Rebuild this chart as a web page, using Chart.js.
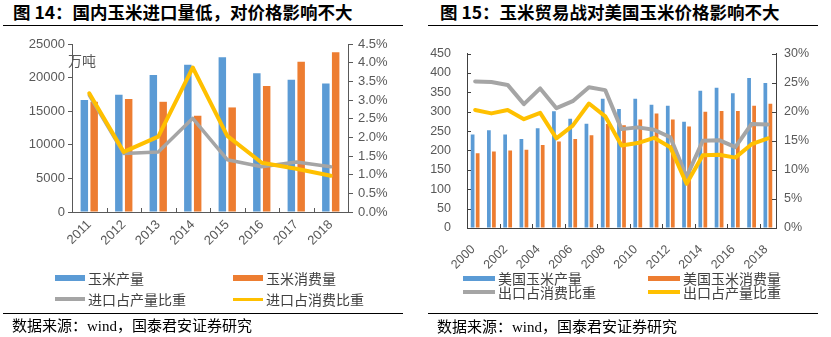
<!DOCTYPE html>
<html lang="zh">
<head>
<meta charset="UTF-8" />
<title>玉米进口与美国玉米贸易</title>
<script src="https://cdn.jsdelivr.net/npm/chart.js"></script>
<style>
  body { margin: 0; width: 831px; height: 337px; background: #fff; position: relative; overflow: hidden;
         font-family: "Noto Sans CJK SC", sans-serif; }
  .title { position: absolute; top: 2px; line-height: 20px; font-size: 17.5px; font-weight: 700; color: #000; white-space: nowrap; }
  .rule { position: absolute; height: 0; border-top: 1.5px solid #000; }
  .source { position: absolute; line-height: 20px; font-family: "Liberation Serif", "Noto Sans CJK SC", serif;
            font-size: 15px; color: #000; white-space: nowrap; }
  .box { position: absolute; }
  .unit { position: absolute; font-size: 14px; line-height: 18px; color: #595959; }
  .lg { position: absolute; height: 20px; line-height: 20px; font-size: 14px; color: #404040; white-space: nowrap;
        display: flex; align-items: center; }
  .lg i { display: inline-block; margin-right: 3px; }
</style>
</head>
<body>
  <div class="title" style="left:13px">图 14：国内玉米进口量低，对价格影响不大</div>
  <div class="rule" style="left:3px; top:25px; width:400px"></div>
  <div class="box" style="left:0; top:30px; width:415px; height:240px"><canvas id="chart14"></canvas></div>
  <div class="unit" style="left:68px; top:51px">万吨</div>
  <div id="legend14"></div>
  <div class="rule" style="left:3px; top:313px; width:400px"></div>
  <div class="source" style="left:12px; top:316px">数据来源：wind，国泰君安证券研究</div>

  <div class="title" style="left:440px">图 15：玉米贸易战对美国玉米价格影响不大</div>
  <div class="rule" style="left:428px; top:25px; width:390px"></div>
  <div class="box" style="left:415px; top:30px; width:416px; height:240px"><canvas id="chart15"></canvas></div>
  <div id="legend15"></div>
  <div class="rule" style="left:428px; top:313px; width:390px"></div>
  <div class="source" style="left:437px; top:317px">数据来源：wind，国泰君安证券研究</div>

<script>
  // 图14：国内玉米（万吨）及进口占比（%）
  const years14 = ['2011', '2012', '2013', '2014', '2015', '2016', '2017', '2018'];
  const cnOutput = [16650, 17450, 20380, 21920, 23010, 20630, 19680, 19140];
  const cnUse = [16400, 16800, 16400, 14310, 15560, 18740, 22370, 23760];
  const importShareOutput = [3.13, 1.57, 1.61, 2.51, 1.40, 1.21, 1.34, 1.21];
  const importShareUse = [3.18, 1.61, 2.02, 3.87, 2.04, 1.32, 1.16, 0.97];

  // 图15：美国玉米（百万吨）及出口占比（%）
  const years15 = ['2000', '2001', '2002', '2003', '2004', '2005', '2006', '2007', '2008', '2009',
                   '2010', '2011', '2012', '2013', '2014', '2015', '2016', '2017', '2018'];
  const usOutput = [241, 252, 241, 229.5, 257, 301, 282, 269, 333.6, 307,
                    333.6, 318, 315, 274, 354, 361.5, 347.5, 387, 374];
  const usUse = [193, 197, 200, 202, 214, 223, 229.5, 239, 268, 265,
                 280, 295, 280, 261.5, 300, 301.6, 301.6, 315, 320.6];
  const exportShareUse = [25.2, 25.1, 24.6, 21.3, 24.0, 20.6, 21.8, 24.2, 23.7, 17.0,
                          17.3, 16.9, 15.6, 8.8, 15.0, 15.1, 13.9, 17.9, 17.8];
  const exportShareOutput = [20.3, 19.7, 20.3, 18.7, 19.8, 15.4, 17.6, 21.4, 19.2, 14.2,
                             14.6, 15.5, 13.9, 7.6, 12.5, 12.6, 12.1, 14.4, 15.4];

  const BLUE = '#5B9BD5', ORANGE = '#ED7D31', GRAY = '#A5A5A5', GOLD = '#FFC000';
  const TICK = '#595959';

  // tick marks pointing into the plot area
  const innerTicks = {
    id: 'innerTicks',
    afterDatasetsDraw(chart, args, opts) {
      const { ctx, chartArea, scales } = chart;
      const len = opts.length || 4;
      ctx.save();
      ctx.strokeStyle = opts.color || TICK;
      ctx.lineWidth = 1;
      ctx.beginPath();
      const x = scales.x;
      for (let i = opts.xFrom; i + 1 < x.ticks.length; i += opts.xStep) {
        const px = Math.round((x.getPixelForValue(i) + x.getPixelForValue(i + 1)) / 2) + 0.5;
        ctx.moveTo(px, chartArea.bottom);
        ctx.lineTo(px, chartArea.bottom - len);
      }
      (opts.yAxes || []).forEach(id => {
        const s = scales[id];
        s.ticks.forEach(t => {
          const py = Math.round(s.getPixelForValue(t.value)) + 0.5;
          if (s.position === 'left') { ctx.moveTo(chartArea.left, py); ctx.lineTo(chartArea.left + len, py); }
          else { ctx.moveTo(chartArea.right, py); ctx.lineTo(chartArea.right - len, py); }
        });
      });
      ctx.stroke();
      ctx.restore();
    }
  };

  function fixed(size) {
    return scale => {
      if (scale.isHorizontal()) scale.height = size; else scale.width = size;
    };
  }

  function buildLegend(chart, id, slots, marks) {
    const host = document.getElementById(id);
    chart.data.datasets.forEach((ds, i) => {
      const s = slots[i];
      const item = document.createElement('div');
      item.className = 'lg';
      item.style.left = s[0] + 'px';
      item.style.top = (s[1] - 10) + 'px';
      const m = document.createElement('i');
      m.style.width = marks[i][0] + 'px';
      m.style.height = marks[i][1] + 'px';
      m.style.background = ds.type === 'line' ? ds.borderColor : ds.backgroundColor;
      item.appendChild(m);
      item.appendChild(document.createTextNode(ds.label));
      host.appendChild(item);
    });
  }

  Chart.defaults.font.family = '"Liberation Sans", Arial, sans-serif';
  Chart.defaults.color = TICK;

  const chart14 = new Chart(document.getElementById('chart14'), {
    type: 'bar',
    data: {
      labels: years14,
      datasets: [
        { label: '玉米产量', data: cnOutput, backgroundColor: BLUE, yAxisID: 'y', order: 2,
          barPercentage: 0.76, categoryPercentage: 0.57 },
        { label: '玉米消费量', data: cnUse, backgroundColor: ORANGE, yAxisID: 'y', order: 3,
          barPercentage: 0.76, categoryPercentage: 0.57 },
        { type: 'line', label: '进口占产量比重', data: importShareOutput, borderColor: GRAY, backgroundColor: GRAY,
          borderWidth: 3.5, pointRadius: 0, tension: 0, yAxisID: 'y1', order: 1,
          borderJoinStyle: 'round', borderCapStyle: 'round' },
        { type: 'line', label: '进口占消费比重', data: importShareUse, borderColor: GOLD, backgroundColor: GOLD,
          borderWidth: 4, pointRadius: 0, tension: 0, yAxisID: 'y1', order: 0,
          borderJoinStyle: 'round', borderCapStyle: 'round' }
      ]
    },
    options: {
      responsive: true,
      maintainAspectRatio: false,
      animation: false,
      layout: { padding: { top: 14, left: 0, right: 0, bottom: 0 } },
      plugins: {
        legend: { display: false },
        tooltip: { enabled: false },
        innerTicks: { xFrom: 0, xStep: 1, yAxes: [], length: 4 }
      },
      scales: {
        x: {
          afterFit: fixed(58),
          border: { color: TICK, width: 1 },
          grid: { drawOnChartArea: false, drawTicks: false },
          ticks: { font: { size: 13 }, minRotation: 45, maxRotation: 45, padding: 5, autoSkip: false }
        },
        y: {
          position: 'left', min: 0, max: 25000,
          afterFit: fixed(72),
          border: { color: TICK, width: 1 },
          grid: { drawOnChartArea: false, drawTicks: true, tickLength: 4, color: TICK },
          ticks: { stepSize: 5000, font: { size: 13 }, padding: 3, callback: v => String(v) }
        },
        y1: {
          position: 'right', min: 0, max: 4.5,
          afterFit: fixed(67),
          border: { color: TICK, width: 1 },
          grid: { drawOnChartArea: false, drawTicks: true, tickLength: 5, color: TICK },
          ticks: { stepSize: 0.5, font: { size: 13 }, padding: 5, callback: v => v.toFixed(1) + '%' }
        }
      }
    },
    plugins: [innerTicks]
  });

  const chart15 = new Chart(document.getElementById('chart15'), {
    type: 'bar',
    data: {
      labels: years15,
      datasets: [
        { label: '美国玉米产量', data: usOutput, backgroundColor: BLUE, yAxisID: 'y', order: 2,
          barPercentage: 0.74, categoryPercentage: 0.62 },
        { label: '美国玉米消费量', data: usUse, backgroundColor: ORANGE, yAxisID: 'y', order: 3,
          barPercentage: 0.74, categoryPercentage: 0.62 },
        { type: 'line', label: '出口占消费比重', data: exportShareUse, borderColor: GRAY, backgroundColor: GRAY,
          borderWidth: 4, pointRadius: 0, tension: 0, yAxisID: 'y1', order: 1,
          borderJoinStyle: 'round', borderCapStyle: 'round' },
        { type: 'line', label: '出口占产量比重', data: exportShareOutput, borderColor: GOLD, backgroundColor: GOLD,
          borderWidth: 4, pointRadius: 0, tension: 0, yAxisID: 'y1', order: 0,
          borderJoinStyle: 'round', borderCapStyle: 'round' }
      ]
    },
    options: {
      responsive: true,
      maintainAspectRatio: false,
      animation: false,
      layout: { padding: { top: 15, left: 0, right: 0, bottom: 0 } },
      plugins: {
        legend: { display: false },
        tooltip: { enabled: false },
        innerTicks: { xFrom: 1, xStep: 2, yAxes: ['y', 'y1'], length: 4, color: '#404040' }
      },
      scales: {
        x: {
          afterFit: fixed(42),
          border: { color: '#404040', width: 1 },
          grid: { drawOnChartArea: false, drawTicks: false },
          ticks: { font: { size: 12.5 }, minRotation: 45, maxRotation: 45, padding: 14, labelOffset: -2,
                   autoSkip: false, callback: (v, i) => (i % 2 === 0 ? years15[i] : '') }
        },
        y: {
          position: 'left', min: 0, max: 450,
          afterFit: fixed(52),
          border: { color: '#404040', width: 1 },
          grid: { drawOnChartArea: false, drawTicks: false },
          ticks: { stepSize: 50, font: { size: 12.5 }, padding: 16 }
        },
        y1: {
          position: 'right', min: 0, max: 30,
          afterFit: fixed(55),
          border: { color: '#404040', width: 1 },
          grid: { drawOnChartArea: false, drawTicks: false },
          ticks: { stepSize: 5, font: { size: 12.5 }, padding: 8, callback: v => v + '%' }
        }
      }
    },
    plugins: [innerTicks]
  });

  buildLegend(chart14, 'legend14', [[55, 278], [233, 278], [55, 299], [233, 299]],
              [[30, 6], [30, 6], [30, 4], [30, 3]]);
  buildLegend(chart15, 'legend15', [[463, 278], [648, 278], [463, 292], [648, 292]],
              [[32, 5], [32, 5], [32, 4], [32, 4]]);
</script>
</body>
</html>
